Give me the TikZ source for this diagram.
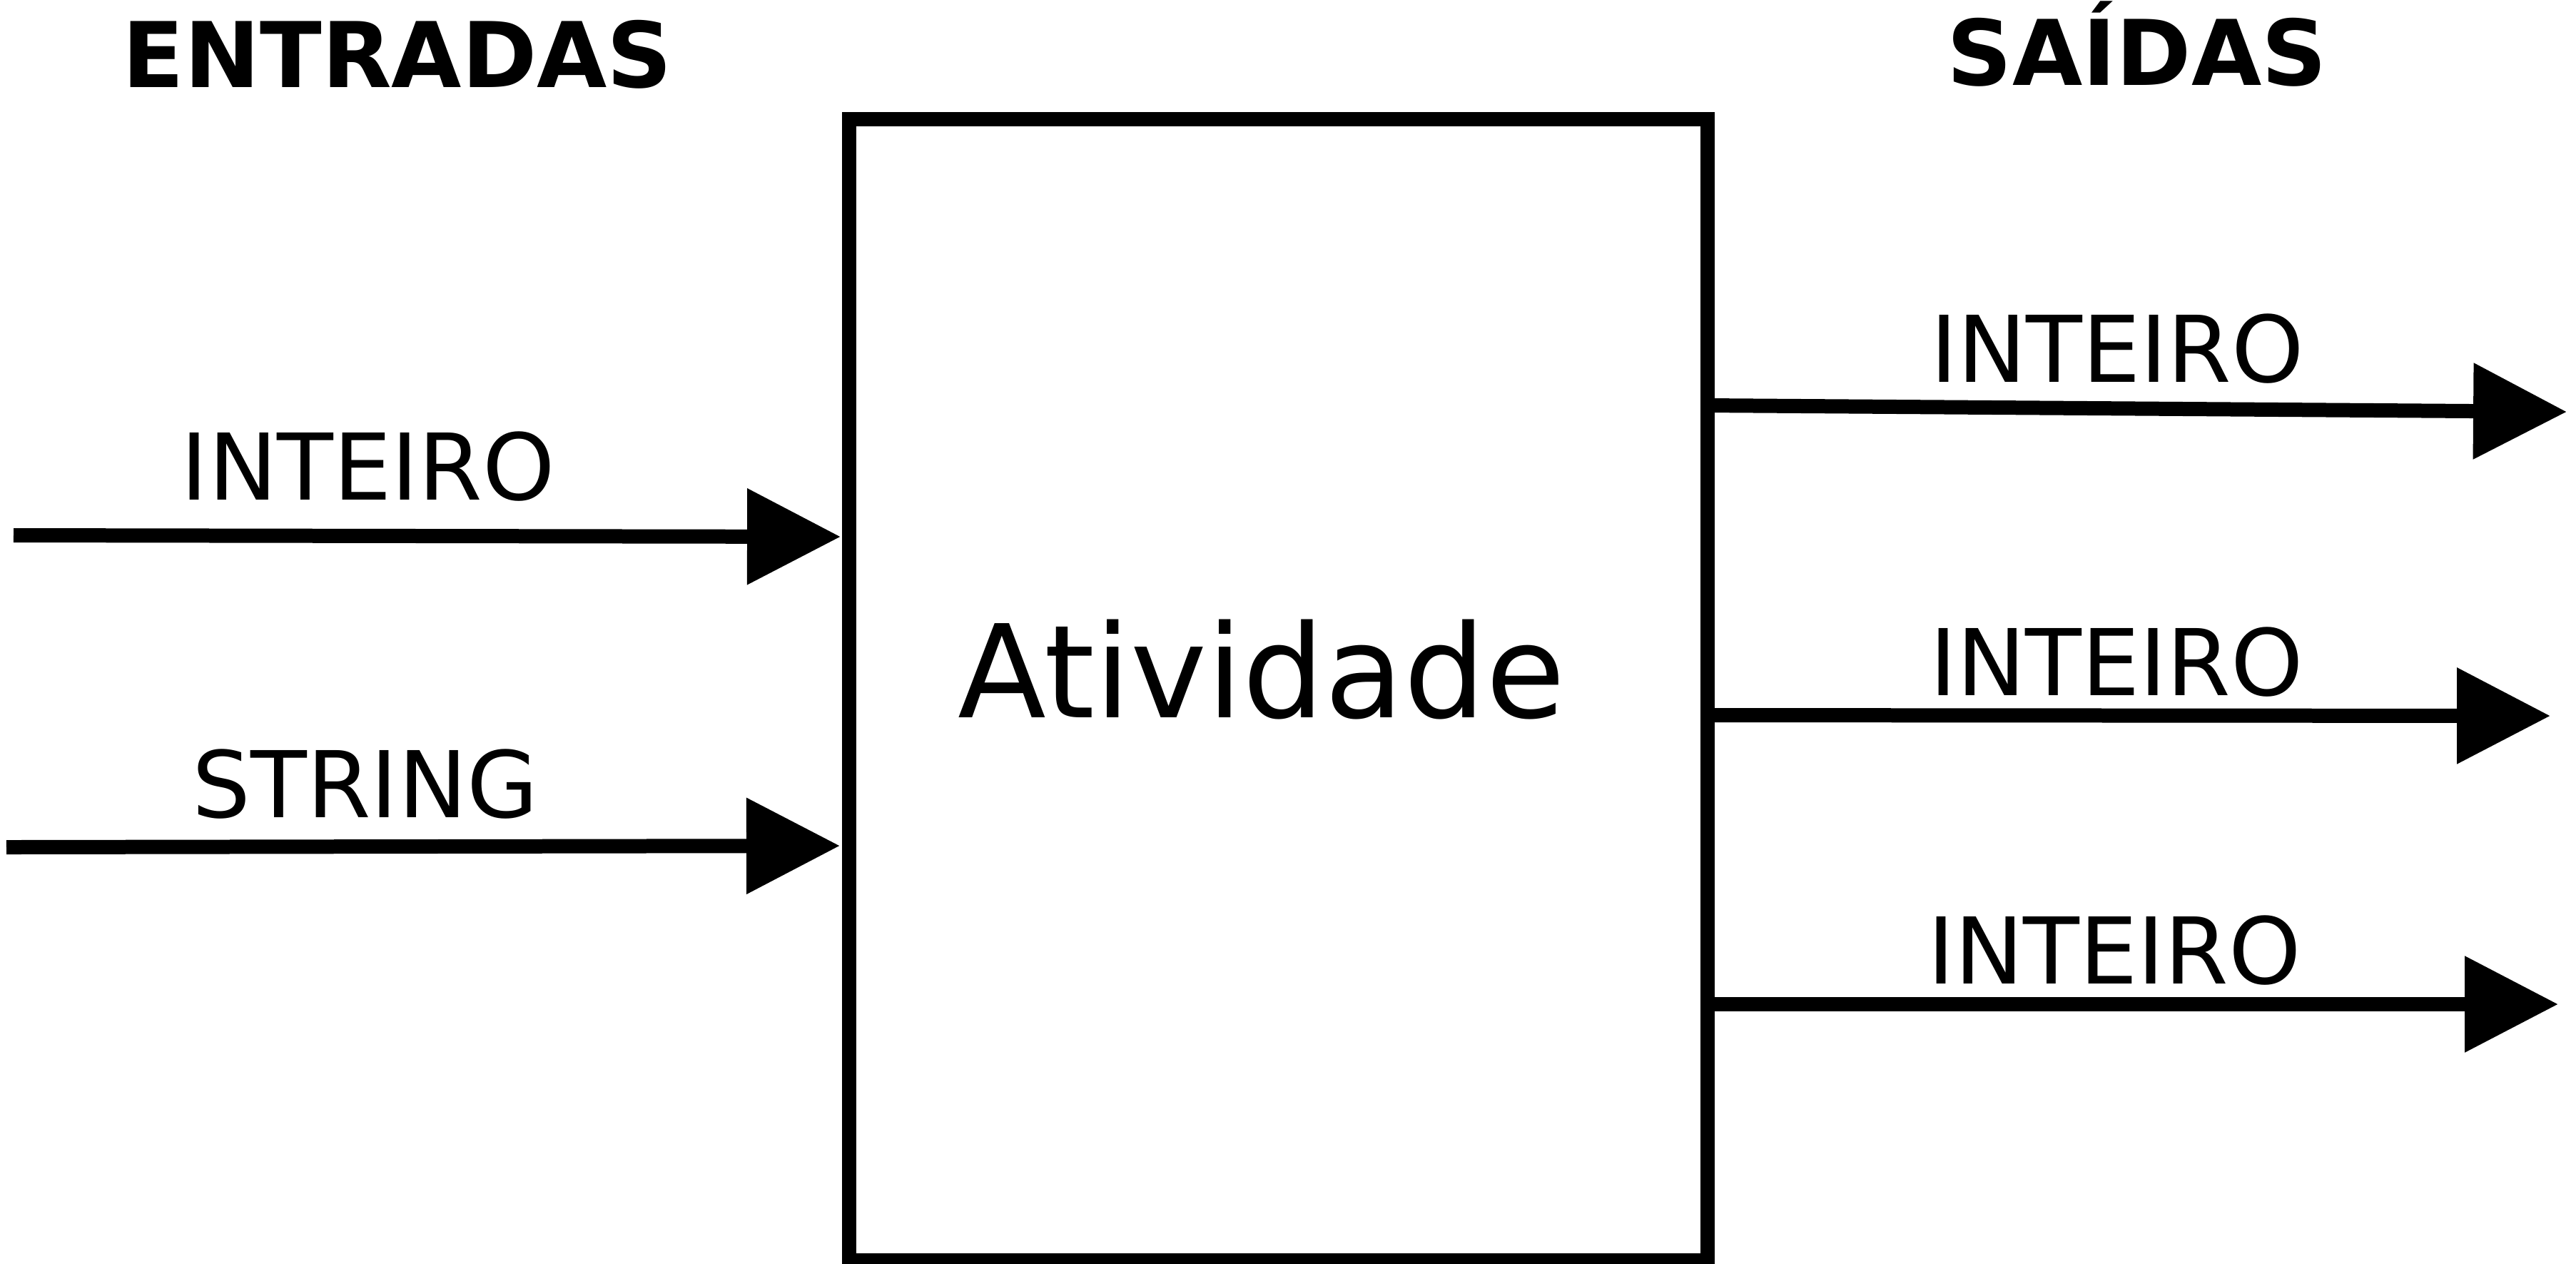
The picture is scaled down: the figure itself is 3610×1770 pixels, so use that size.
\documentclass[tikz,border=0pt]{standalone}
\usepackage{fontspec}
\setmainfont{DejaVu Sans}
\usetikzlibrary{arrows.meta}
\tikzset{
  lbl/.style={anchor=base,inner sep=0pt,font=\fontsize{12.9}{15}\selectfont},
  head/.style={anchor=base,inner sep=0pt,font=\fontsize{12.7}{15}\selectfont\bfseries},
  actbox/.style={draw=black,line width=2pt,minimum width=120.3pt,minimum height=159.9pt,inner sep=0pt},
  flow/.style={line width=2pt,-{Triangle[length=13.1pt,width=13pt]}}
}
\begin{document}
\begin{tikzpicture}[x=0.1pt,y=-0.1pt]
\useasboundingbox[fill=white] (0,0) rectangle (3610,1770);
\node[actbox] (box) at (1791.5,966.5) {};
\node[anchor=base,inner sep=0pt,font=\fontsize{18.1}{22}\selectfont] (act) at (1768,1005) {Atividade};
\node[head] (ent) at (557,122) {ENTRADAS};
\node[head] (sai) at (2995,119) {SAÍDAS};
% inputs
\coordinate (i1s) at (19,750);
\coordinate (i1e) at (1178,752);
\coordinate (i2s) at (9,1187);
\coordinate (i2e) at (1177,1185);
\draw[flow] (i1s) -- (i1e);
\draw[flow] (i2s) -- (i2e);
\node[lbl] (li1) at (516,700) {INTEIRO};
\node[lbl] (li2) at (512,1145) {STRING};
% outputs
\coordinate (o1s) at (2393,568);
\coordinate (o1e) at (3597,577);
\coordinate (o2s) at (2393,1002);
\coordinate (o2e) at (3574,1003);
\coordinate (o3s) at (2393,1407);
\coordinate (o3e) at (3585,1407);
\draw[flow] (o1s) -- (o1e);
\draw[flow] (o2s) -- (o2e);
\draw[flow] (o3s) -- (o3e);
\node[lbl] (lo1) at (2967,535) {INTEIRO};
\node[lbl] (lo2) at (2966,974) {INTEIRO};
\node[lbl] (lo3) at (2963,1378) {INTEIRO};
\end{tikzpicture}
\end{document}
